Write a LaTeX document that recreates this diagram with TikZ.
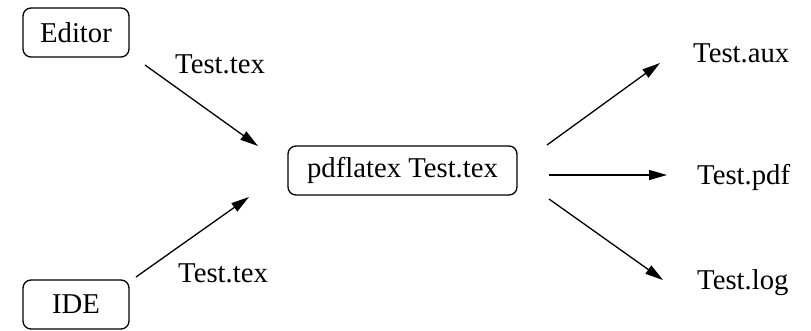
\documentclass[tikz,border=0pt]{standalone}
\usepackage{fontspec}
\setmainfont{Liberation Serif}
\usetikzlibrary{arrows.meta}
\begin{document}
\begin{tikzpicture}[x=1pt,y=-1pt,
  every node/.style={font=\fontsize{28.7}{32}\selectfont, inner sep=0pt},
  box/.style={draw, line width=1.3pt, rounded corners=8pt, minimum height=49pt},
  lbl/.style={anchor=base west},
  arr/.style={line width=1.3pt, -{Triangle[length=18pt,width=10pt]}}]
\useasboundingbox (0,0) rectangle (811,330);
\node[box, minimum width=106pt] (editor) at (76,32.5) {Editor};
\node[box, minimum width=106pt] (ide) at (76,304.5) {IDE};
\node[box, minimum width=229pt] (pdf) at (402.5,170.5) {pdflatex Test.tex};
\node[lbl] (aux) at (693,62) {Test.aux};
\node[lbl] (pdfout) at (697,184) {Test.pdf};
\node[lbl] (log) at (697,289) {Test.log};
\node[lbl] (l1) at (175,73) {Test.tex};
\node[lbl] (l2) at (178,282) {Test.tex};
\coordinate (e1) at (145,65);
\coordinate (e2) at (258,146);
\coordinate (i1) at (136,277);
\coordinate (i2) at (249,197);
\coordinate (a1) at (547,145);
\coordinate (a2) at (660,63);
\coordinate (p1) at (549,175);
\coordinate (p2) at (667,175);
\coordinate (g1) at (549,199);
\coordinate (g2) at (663,280);
\draw[arr] (e1) -- (e2);
\draw[arr] (i1) -- (i2);
\draw[arr] (a1) -- (a2);
\draw[arr] (p1) -- (p2);
\draw[arr] (g1) -- (g2);
\end{tikzpicture}
\end{document}
